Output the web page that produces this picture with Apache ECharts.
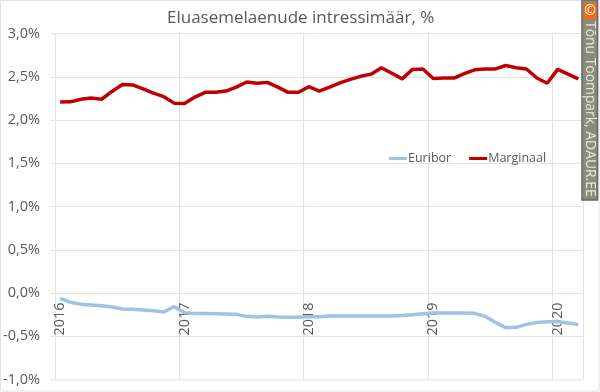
<!DOCTYPE html>
<html><head><meta charset="utf-8">
<style>html,body{margin:0;padding:0;background:#fff}#c{width:600px;height:392px}</style>
<script src="https://cdn.jsdelivr.net/npm/echarts@6/dist/echarts.min.js"></script>
</head><body><div id="c"></div>
<script>
const titleText = 'Eluasemelaenude intressimäär, %';
const credit = 'Tõnu Toompark, ADAUR.EE';
const years = ['2016','2017','2018','2019','2020'];
const months = ['01','02','03','04','05','06','07','08','09','10','11','12'];
const categories = [];
years.forEach(y => months.forEach(m => { if (categories.length < 51) categories.push(y + '-' + m); }));
const euribor = [-0.062,-0.108,-0.131,-0.139,-0.147,-0.162,-0.185,-0.189,-0.197,-0.205,-0.22,-0.158,
 -0.227,-0.236,-0.236,-0.239,-0.243,-0.247,-0.27,-0.278,-0.27,-0.278,-0.28,-0.28,
 -0.275,-0.274,-0.266,-0.266,-0.266,-0.266,-0.266,-0.266,-0.266,-0.259,-0.251,-0.239,
 -0.231,-0.231,-0.231,-0.231,-0.235,-0.27,-0.34,-0.401,-0.397,-0.363,-0.34,-0.332,-0.332,-0.347,-0.363];
const marginaal = [2.208,2.21,2.24,2.255,2.24,2.33,2.41,2.405,2.36,2.31,2.27,2.195,
 2.19,2.265,2.32,2.32,2.335,2.38,2.44,2.425,2.435,2.38,2.32,2.32,
 2.385,2.335,2.38,2.43,2.47,2.505,2.53,2.605,2.54,2.475,2.585,2.59,
 2.48,2.485,2.485,2.535,2.58,2.59,2.59,2.63,2.605,2.59,2.485,2.425,2.585,2.53,2.475];
const font = '"Open Sans", sans-serif';
const ink = '#595959', grid = '#E4E4E4';
const chart = echarts.init(document.getElementById('c'), null, {renderer:'canvas'});
chart.setOption({
  animation:false,
  backgroundColor:'#fff',
  title:{text:titleText,left:167,top:10,padding:0,textStyle:{color:ink,fontFamily:font,fontSize:17,fontWeight:'normal'}},
  grid:{left:53.5,right:16.5,top:33.5,bottom:12.5,containLabel:false},
  legend:{left:389,top:152,padding:0,itemWidth:18,itemHeight:3,itemGap:18,icon:'rect',
    textStyle:{color:ink,fontFamily:font,fontSize:12.5,padding:[0,0,0,-4]},
    data:['Euribor','Marginaal']},
  xAxis:{type:'category',data:categories,boundaryGap:true,
    axisLine:{show:true,onZero:false,lineStyle:{color:'#EDEDED',width:1.5}},
    axisTick:{show:false},
    splitLine:{show:true,interval:11,lineStyle:{color:grid,width:1}},
    axisLabel:{interval:11,rotate:90,inside:true,margin:44,color:ink,fontFamily:font,fontSize:14.4,
      formatter:v=>v.slice(0,4)}},
  yAxis:{type:'value',min:-1,max:3,interval:0.5,
    axisLine:{show:false},
    axisTick:{show:true,length:4.5,lineStyle:{color:grid}},
    splitLine:{show:true,lineStyle:{color:grid,width:1}},
    axisLabel:{margin:15,color:ink,fontFamily:font,fontSize:14.5,
      formatter:v=>v.toFixed(1).replace('.',',')+'%'}},
  series:[
    {name:'Euribor',type:'line',data:euribor,symbol:'none',lineStyle:{color:'#9DC3E6',width:3.5},itemStyle:{color:'#9DC3E6'}},
    {name:'Marginaal',type:'line',data:marginaal,symbol:'none',lineStyle:{color:'#C00000',width:3.5},itemStyle:{color:'#C00000'}}
  ],
  graphic:[
    {type:'rect',z:0,silent:true,shape:{x:0.5,y:0.5,width:598.5,height:390.5},style:{fill:'none',stroke:'#E2E2E2',lineWidth:1}},
    {type:'rect',z:50,shape:{x:582,y:0,width:15.5,height:200},style:{fill:'#8C8C7C',stroke:'#666',lineWidth:1.5}},
    {type:'rect',z:51,shape:{x:583.5,y:3,width:13,height:16},style:{fill:'#F56A0E'}},
    {type:'text',z:52,x:590,y:11,style:{text:'©',fill:'#fff',fontSize:14,fontFamily:font,align:'center',verticalAlign:'middle'}},
    {type:'text',z:52,x:590,y:21,rotation:-Math.PI/2,style:{text:credit,fill:'#E8E8DC',fontSize:13.9,fontFamily:font,align:'left',verticalAlign:'middle'}}
  ]
});
</script></body></html>
